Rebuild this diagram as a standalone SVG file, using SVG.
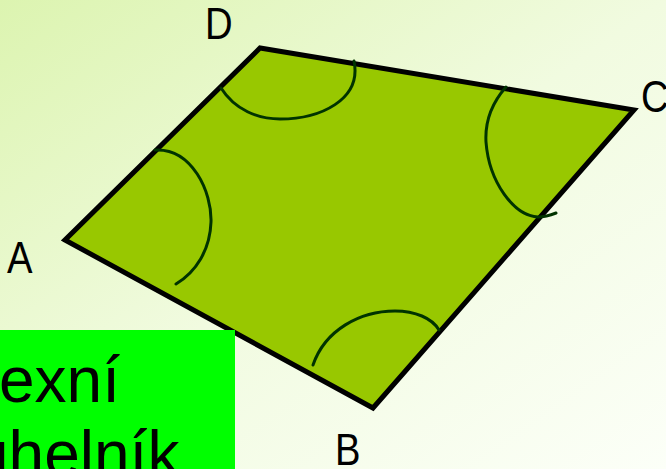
<svg xmlns="http://www.w3.org/2000/svg" width="666" height="469" viewBox="0 0 666 469">
  <defs>
    <linearGradient id="bg" x1="0" y1="0" x2="1" y2="1">
      <stop offset="0" stop-color="#dcf4b0"/>
      <stop offset="0.5" stop-color="#f1fbe0"/>
      <stop offset="1" stop-color="#fcfff8"/>
    </linearGradient>
  </defs>
  <style>
    .lbl { font-family: "Liberation Sans", Arial, sans-serif; font-size: 45px; fill: #000; }
    .big { font-family: "Liberation Sans", Arial, sans-serif; font-size: 64px; fill: #000; }
    .arc { fill: none; stroke: #003300; stroke-width: 3; stroke-linecap: round; }
  </style>
  <rect x="0" y="0" width="666" height="469" fill="url(#bg)"/>
  <g id="quad">
    <polygon points="65,240 373,408 634,110 260,48" fill="#98c800" stroke="#000" stroke-width="5" stroke-linejoin="miter"/>
  </g>
  <g id="arcs">
    <path class="arc" d="M155,150 C192,148 212,192 211,222 C210,250 196,272 176,284"/>
    <path class="arc" d="M221,88 C235,110 258,119 280,119 C320,119 362,100 354,61"/>
    <path class="arc" d="M506,87 C491,104 485,124 486,142 C489,182 514,216 538,217 C546,217 551,215 556,213"/>
    <path class="arc" d="M313,365 C325,330 360,311 395,311 C415,311 432,318 439,330"/>
  </g>
  <g id="labels">
    <text class="lbl" transform="translate(7,273) scale(0.85,1)">A</text>
    <text class="lbl" transform="translate(335,465) scale(0.85,1)">B</text>
    <text class="lbl" transform="translate(641,112) scale(0.85,1)">C</text>
    <text class="lbl" transform="translate(205,39) scale(0.85,1)">D</text>
  </g>
  <g id="titlebox">
    <rect x="0" y="330" width="235" height="139" fill="#00ff00"/>
    <text class="big" x="-1" y="402">exní</text>
    <text class="big" x="-27" y="476">uhelník</text>
  </g>
</svg>
